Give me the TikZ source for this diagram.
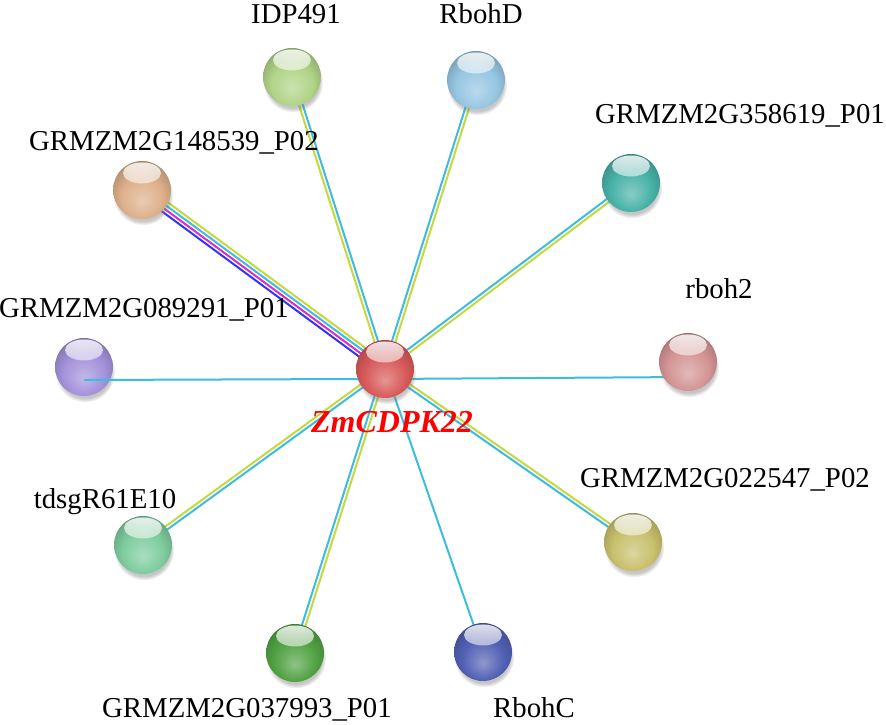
\documentclass[tikz,border=0pt]{standalone}
\usepackage{fontspec}
\setmainfont{Liberation Serif}
\usetikzlibrary{calc, shadows, fadings, backgrounds}

\makeatletter
\pgfdeclareradialshading[tikz@ball]{sphere}{\pgfqpoint{0bp}{-10bp}}{%
  color(0bp)=(tikz@ball!65!white);
  color(10bp)=(tikz@ball!85!white);
  color(18bp)=(tikz@ball);
  color(27bp)=(tikz@ball!85!black);
  color(33bp)=(tikz@ball!60!black);
  color(50bp)=(tikz@ball!60!black)}
\makeatother
\tikzfading[name=gloss, top color=transparent!15, bottom color=transparent!100]

\definecolor{cyanE}{HTML}{3DBCDD}
\definecolor{limeE}{HTML}{C2DA3E}
\definecolor{magE}{HTML}{D22CD6}
\definecolor{blueE}{HTML}{3434F0}

\definecolor{colC}{HTML}{D85A5A}
\definecolor{colIdp}{HTML}{B0D488}
\definecolor{colRbohD}{HTML}{96C6E2}
\definecolor{colG358}{HTML}{48B2A8}
\definecolor{colG148}{HTML}{DDB08A}
\definecolor{colG089}{HTML}{A492DC}
\definecolor{colRboh2}{HTML}{D49494}
\definecolor{colTdsg}{HTML}{7ECC9E}
\definecolor{colG037}{HTML}{52A244}
\definecolor{colRbohC}{HTML}{5260B4}
\definecolor{colG022}{HTML}{C8C06C}

\begin{document}
\begin{tikzpicture}[x=1pt, y=-1pt,
  protein/.style={circle, minimum size=58pt, inner sep=0pt, ball color=#1, shading=sphere,
    circular drop shadow={shadow xshift=1pt, shadow yshift=-5pt, shadow scale=1.04, opacity=.45},
    path picture={\fill[white, path fading=gloss] ([yshift=-12pt]path picture bounding box.north) ellipse (19pt and 10.5pt);}},
  lbl/.style={font=\fontsize{28.8}{30}\selectfont, anchor=base, inner sep=0pt},
  cy/.style={draw=cyanE, line width=2pt},
  yg/.style={draw=limeE, line width=2pt},
  mg/.style={draw=magE, line width=2pt},
  bl/.style={draw=blueE, line width=2pt}
]
\useasboundingbox (0,0) rectangle (886,725);

% proteins
\node[protein=colC] (c) at (385,369) {};
\node[protein=colIdp] (idp) at (292,77) {};
\node[protein=colRbohD] (rbohD) at (476,80) {};
\node[protein=colG358] (g358) at (631,183) {};
\node[protein=colG148] (g148) at (142,190) {};
\node[protein=colG089] (g089) at (84,367) {};
\node[protein=colRboh2] (rboh2) at (688,362) {};
\node[protein=colTdsg] (tdsg) at (143,545) {};
\node[protein=colG037] (g037) at (295,653) {};
\node[protein=colRbohC] (rbohC) at (483,652) {};
\node[protein=colG022] (g022) at (633,542) {};

% interactions
\begin{scope}[on background layer]
  \foreach \n/\lst in {idp/{yg/1.8,cy/-1.8}, rbohD/{cy/1.8,yg/-1.8}, g358/{cy/1.8,yg/-1.8},
      g148/{bl/5.4,mg/1.8,cy/-1.8,yg/-5.4}, tdsg/{cy/1.8,yg/-1.8}, g037/{yg/1.8,cy/-1.8},
      g022/{yg/1.8,cy/-1.8}, rbohC/{cy/0}}
    \foreach \col/\off in \lst
      \draw[\col] ($(c)!\off pt!90:(\n)$) -- ($(\n)!\off pt!-90:(c)$);
  \draw[cy] ([yshift=-10pt]c.center) -- ([yshift=-15pt]rboh2.center);
\end{scope}
\draw[cy] ([shift={(-27pt,-10pt)}]c.center) -- ([yshift=-13pt]g089.center);

% names
\node[lbl] (lidp) at (296,24) {IDP491};
\node[lbl] (lrbohD) at (481,24) {RbohD};
\node[lbl] (lg358) at (740,123) {GRMZM2G358619\_P01};
\node[lbl] (lg148) at (174,150) {GRMZM2G148539\_P02};
\node[lbl] (lg089) at (144,317) {GRMZM2G089291\_P01};
\node[lbl] (lrboh2) at (719,298) {rboh2};
\node[lbl] (ltdsg) at (105,508) {tdsgR61E10};
\node[lbl] (lg022) at (725,487) {GRMZM2G022547\_P02};
\node[lbl] (lg037) at (247,717) {GRMZM2G037993\_P01};
\node[lbl] (lrbohC) at (534,717) {RbohC};
\node[lbl, font=\fontsize{32}{34}\selectfont\bfseries\itshape, text=red] (lc) at (392,432) {ZmCDPK22};
\end{tikzpicture}
\end{document}
